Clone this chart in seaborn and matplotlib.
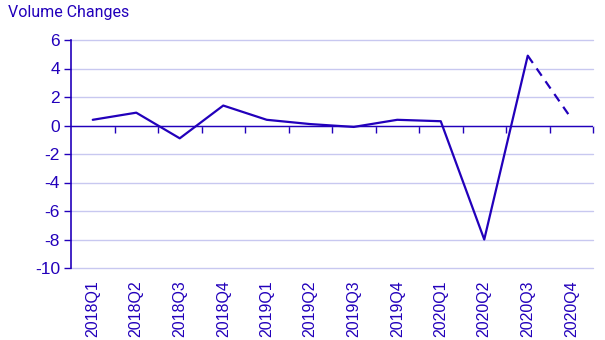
import pandas as pd
import seaborn as sns
from matplotlib import pyplot as plt

quarters = ['2018Q1', '2018Q2', '2018Q3', '2018Q4', '2019Q1', '2019Q2',
            '2019Q3', '2019Q4', '2020Q1', '2020Q2', '2020Q3', '2020Q4']
volume = [0.4, 0.9, -0.9, 1.4, 0.4, 0.1, -0.1, 0.4, 0.3, -8.0, 4.9, 0.5]
n_solid = 11  # last segment is a forecast, drawn dashed

blue = '#2200bb'
grid = '#c8c8f0'

sns.set_theme(style='white')
plt.rcParams['font.family'] = ['Liberation Sans', 'DejaVu Sans']
plt.rcParams['axes.unicode_minus'] = False

data = pd.DataFrame({'quarter': quarters, 'volume': volume})
data['pos'] = range(len(data))

fig = plt.figure(figsize=(6.05, 3.4), dpi=100)
ax = fig.add_axes([71 / 605, 1 - 268 / 340, (593 - 71) / 605, (268 - 40) / 340])

sns.lineplot(data=data.iloc[:n_solid], x='pos', y='volume', color=blue,
             linewidth=1.6, ax=ax)
sns.lineplot(data=data.iloc[n_solid - 1:], x='pos', y='volume', color=blue,
             linewidth=1.6, linestyle=(0, (4, 3)), ax=ax)

ax.set_xlim(-0.5, len(quarters) - 0.5)
ax.set_ylim(-10, 6)
ax.set_yticks(range(-10, 7, 2))
ax.yaxis.grid(True, color=grid, linewidth=1)
for line in ax.get_ygridlines():
    line.set_clip_on(False)
ax.set_axisbelow(True)

ax.set_xticks(data['pos'])
ax.set_xticklabels(quarters, rotation=90, fontsize=11.5, color=blue)
ax.tick_params(axis='x', length=0, pad=9)
ax.tick_params(axis='y', length=5, width=1, color=blue, labelcolor=blue,
               labelsize=12.5, direction='out', left=True, pad=3)

for side in ['top', 'right', 'bottom']:
    ax.spines[side].set_visible(False)
ax.spines['left'].set_color(blue)
ax.spines['left'].set_linewidth(1.2)

# zero line acting as the category axis, with ticks between quarters
ax.axhline(0, color=blue, linewidth=1, zorder=1.5)
zero_frac = (0 - (-10)) / (6 - (-10))
sec = ax.secondary_xaxis(zero_frac)
sec.set_xticks([i + 0.5 for i in range(len(quarters))])
sec.set_xticklabels([])
sec.tick_params(length=5, width=1, color=blue, direction='out',
                bottom=True, top=False)
for s in sec.spines.values():
    s.set_visible(False)

ax.set_xlabel('')
ax.set_ylabel('')
fig.text(8 / 605, 1 - 12 / 340, 'Volume Changes', color=blue, fontsize=11.5,
         va='center', ha='left', family=['Roboto', 'DejaVu Sans'])

plt.savefig('out.png', dpi=100)
